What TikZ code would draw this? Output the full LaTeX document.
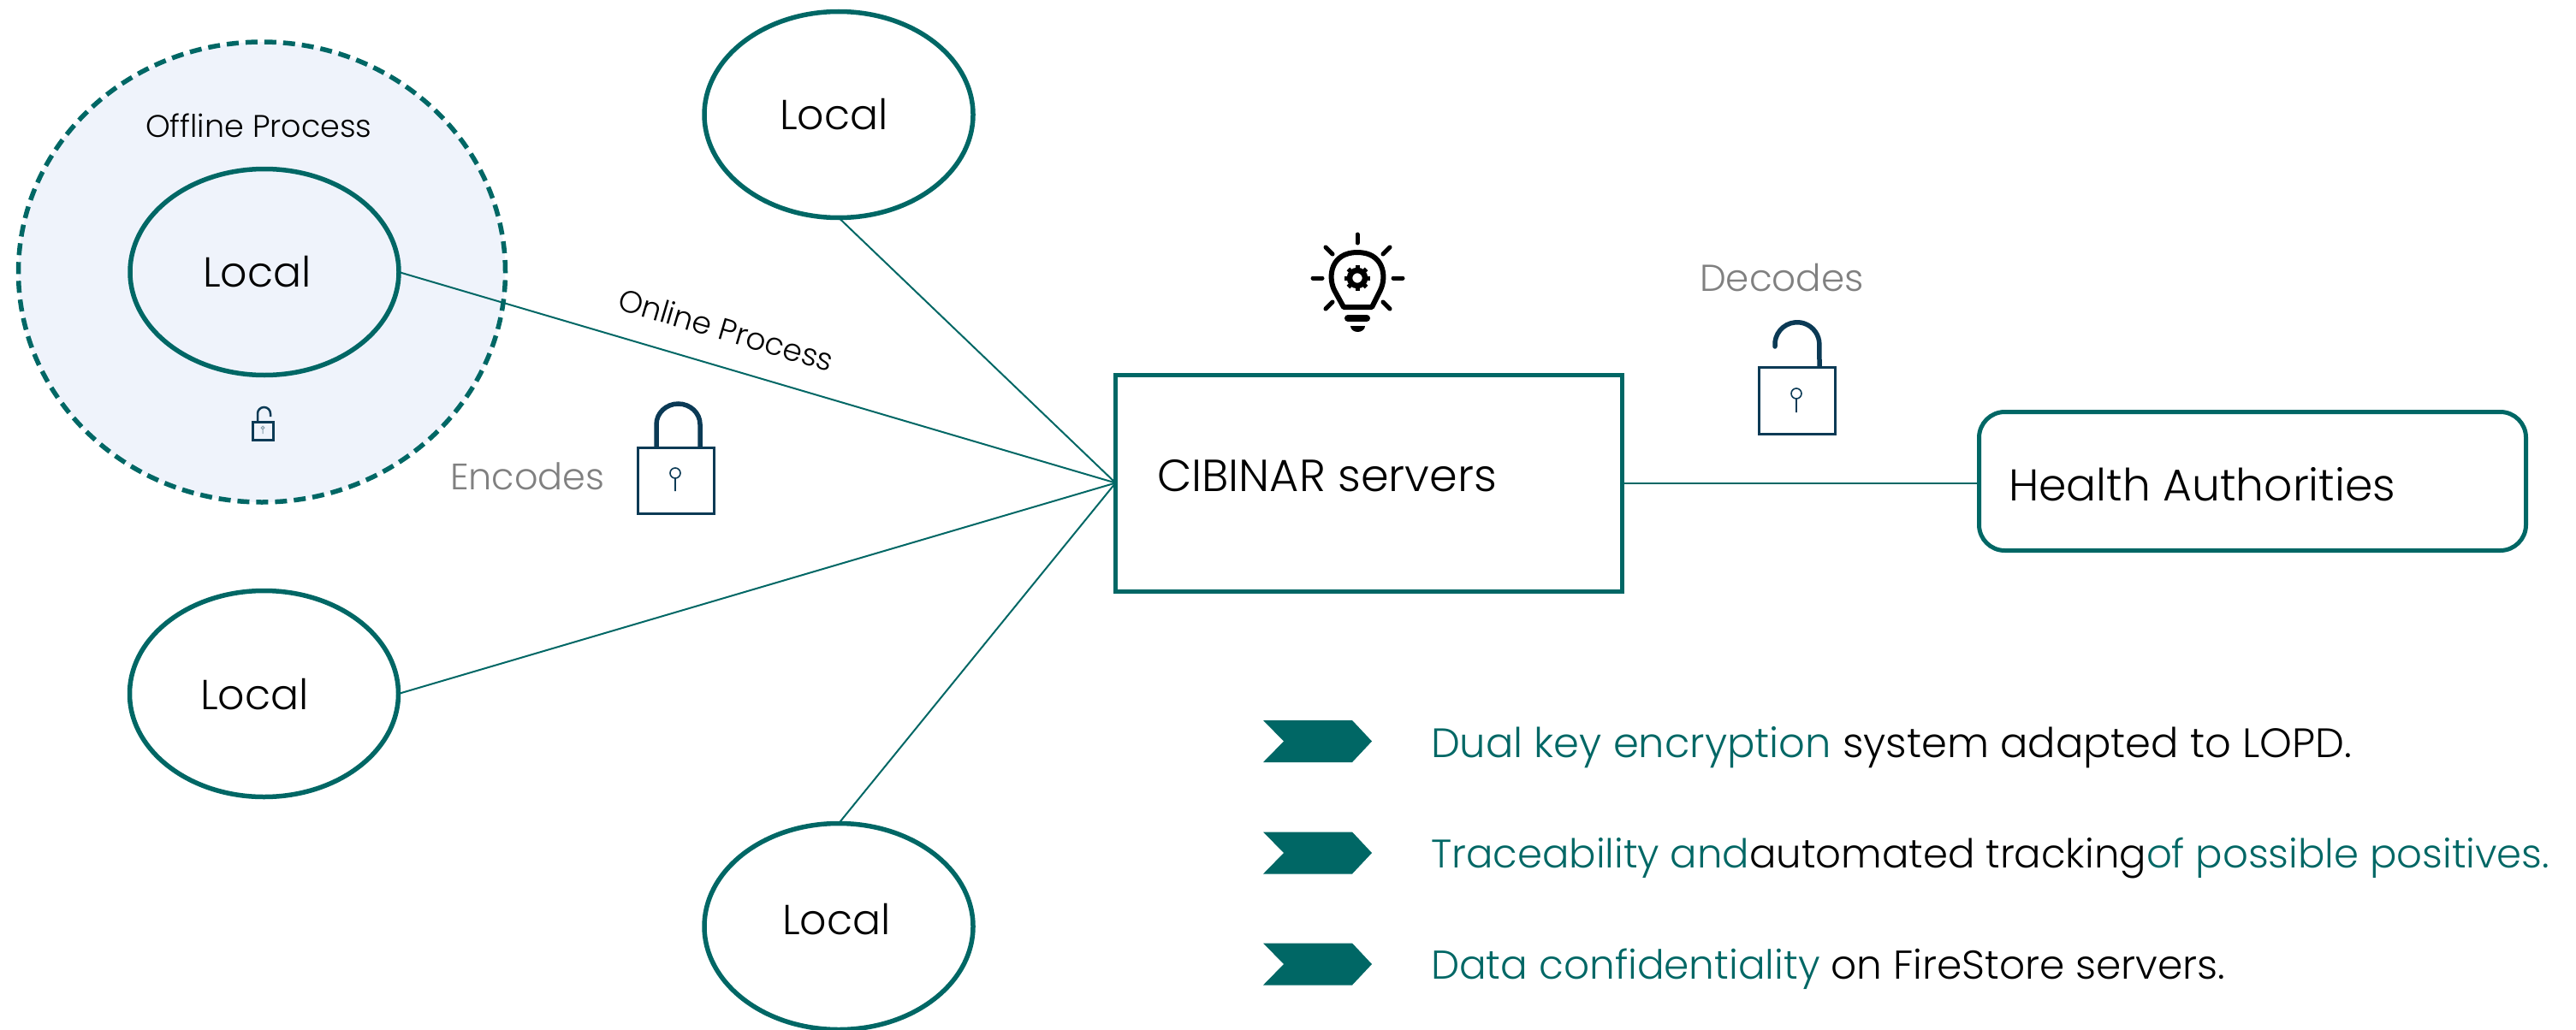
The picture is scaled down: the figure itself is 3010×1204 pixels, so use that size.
\documentclass[tikz,border=0pt]{standalone}
\usepackage{fontspec}
\usetikzlibrary{shapes.geometric}
\setmainfont{Poppins Light}
\definecolor{teal1}{HTML}{006765}
\definecolor{lockc}{HTML}{0B3A55}
\definecolor{softb}{HTML}{EFF3FB}
\definecolor{graytxt}{HTML}{808080}
\tikzset{
  x=1pt,y=-1pt,
  localbub/.style={ellipse,draw=teal1,line width=5.5pt,inner sep=0pt,outer sep=0pt,minimum width=314pt,minimum height=241pt},
  link/.style={draw=teal1,line width=2pt},
  txt/.style={anchor=base west,inner sep=0pt,outer sep=0pt,text=black},
  lockl/.style={draw=lockc,line width=3pt},
  tagmark/.style={fill=teal1,draw=none},
  rayl/.style={line width=5pt,line cap=round,draw=black},
}
\newcommand{\tl}[1]{\textcolor{teal1}{#1}}
\begin{document}
\begin{tikzpicture}
\useasboundingbox (0,0) rectangle (3010,1204);
% offline zone
\node[ellipse,draw=teal1,fill=softb,line width=5.5pt,dash pattern=on 14pt off 8pt,inner sep=0pt,outer sep=0pt,minimum width=569pt,minimum height=538pt] (zone) at (306,318) {};
\node[localbub] (lA) at (309,318) {};
\node[localbub] (lB) at (980,134) {};
\node[localbub] (lC) at (308.5,811) {};
\node[localbub] (lD) at (980,1083) {};
\node[draw=teal1,line width=5pt,inner sep=0pt,outer sep=0pt,minimum width=592pt,minimum height=253pt] (cib) at (1599.5,564.5) {};
\node[draw=teal1,line width=5pt,rounded corners=30pt,inner sep=0pt,outer sep=0pt,minimum width=639pt,minimum height=162pt] (ha) at (2632,562.5) {};
\coordinate (hub) at (cib.west);
\draw[link] (lA.east) -- (hub);
\draw[link] (lB.south) -- (hub);
\draw[link] (lC.east) -- (hub);
\draw[link] (lD.north) -- (hub);
\draw[link] (cib.east) -- (cib.east -| ha.west);
% texts
\node[txt,font=\fontsize{36.5}{40}\selectfont] (t1) at (170,160) {Offline Process};
\node[txt,font=\fontsize{49}{52}\selectfont] (t2) at (237,335) {Local};
\node[txt,font=\fontsize{49}{52}\selectfont] (t3) at (911,151) {Local};
\node[txt,font=\fontsize{49}{52}\selectfont] (t4) at (234,829) {Local};
\node[txt,font=\fontsize{49}{52}\selectfont] (t5) at (914,1092) {Local};
\node[txt,font=\fontsize{52.5}{56}\selectfont] (t6) at (1352,574) {CIBINAR servers};
\node[txt,font=\fontsize{52}{56}\selectfont] (t7) at (2347,585) {Health Authorities};
\node[txt,font=\fontsize{36}{40}\selectfont,rotate=-16.5] (t8) at (720,361) {Online Process};
\node[txt,text=graytxt,font=\fontsize{43}{46}\selectfont] (t9) at (526,572) {Encodes};
\node[txt,text=graytxt,font=\fontsize{43.7}{46}\selectfont] (t10) at (1986,340) {Decodes};
\node[txt,font=\fontsize{48}{52}\selectfont] (b1) at (1672,885) {\tl{Dual key encryption} system adapted to LOPD.};
\node[txt,font=\fontsize{46.6}{50}\selectfont] (b2) at (1672,1014) {\tl{Traceability and}automated tracking\tl{of possible positives.}};
\node[txt,font=\fontsize{47}{50}\selectfont] (b3) at (1672,1144) {\tl{Data confidentiality} on FireStore servers.};
% chevrons
\foreach \cy in {866.5,997,1127}{
  \fill[tagmark] (1476,\cy-24.5) -- (1580,\cy-24.5) -- (1603,\cy) -- (1580,\cy+24.5) -- (1476,\cy+24.5) -- (1500,\cy) -- cycle;
}
% closed lock
\draw[lockl] (745.5,523.5) rectangle (834.5,600);
\draw[draw=lockc,line width=5.5pt] (767,522) -- (767,496) arc[start angle=180,end angle=360,x radius=25.5,y radius=24] -- (818,522);
\draw[lockc,line width=1.6pt] (789,553) circle[radius=6] (789,559) -- (789,574);
% open lock
\draw[lockl] (2055.5,429.5) rectangle (2144.5,507.5);
\draw[draw=lockc,line width=5.5pt,line cap=round] (2074,405) arc[start angle=175,end angle=360,radius=26] -- (2126,428);
\draw[lockc,line width=1.6pt] (2099,460) circle[radius=6] (2099,466) -- (2099,482);
% small lock
\draw[draw=lockc,line width=3.5pt] (295.5,493.5) rectangle (319.5,514.5);
\draw[draw=lockc,line width=2.5pt] (301,492) -- (301,483.5) arc[start angle=180,end angle=360,radius=7.5] -- (316,487);
\draw[lockc!50,line width=1pt] (307,500) circle[radius=1.8] (307,502) -- (307,507);
% bulb
\draw[draw=black,line width=6pt,line join=round] (1570,359) -- (1559,339) .. controls (1551,322) and (1556,295) .. (1586,295) .. controls (1616,295) and (1621,322) .. (1613,339) -- (1603,359) -- cycle;
\draw[line width=8pt,line cap=round,black] (1575,372) -- (1597,372);
\fill[black] (1595,381) arc[start angle=0,end angle=180,x radius=8.5,y radius=7] -- cycle;
\draw[rayl] (1586,274) -- (1586,284);
\draw[rayl] (1534,325) -- (1545,325);
\draw[rayl] (1628,325) -- (1639,325);
\draw[rayl] (1549,289) -- (1557,297);
\draw[rayl] (1624,289) -- (1616,297);
\draw[rayl] (1549,361) -- (1557,353);
\draw[rayl] (1624,361) -- (1616,353);
\draw[black,line width=6.5pt] (1586,325) circle[radius=9];
\foreach \a in {0,45,...,315}{
  \draw[black,line width=5pt] (1586,325) ++(\a:10) -- ++(\a:5);
}
\end{tikzpicture}
\end{document}
